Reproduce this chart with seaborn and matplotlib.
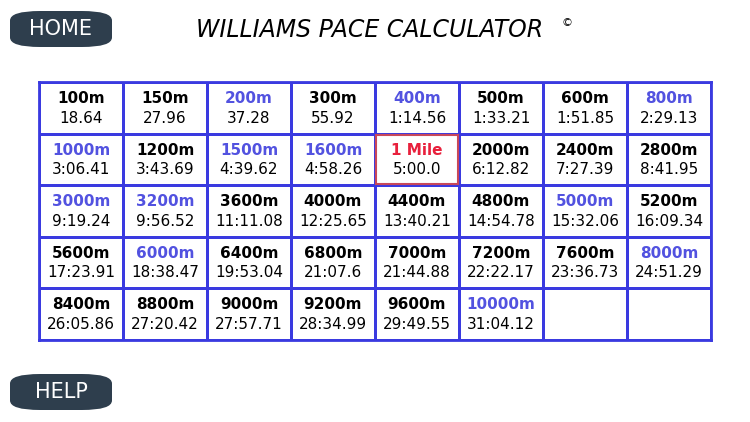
import numpy as np
import matplotlib
matplotlib.use("Agg")
import matplotlib.pyplot as plt
from matplotlib.patches import FancyBboxPatch, Rectangle
import seaborn as sns

distances = ["100m","150m","200m","300m","400m","500m","600m","800m",
             "1000m","1200m","1500m","1600m","1 Mile","2000m","2400m","2800m",
             "3000m","3200m","3600m","4000m","4400m","4800m","5000m","5200m",
             "5600m","6000m","6400m","6800m","7000m","7200m","7600m","8000m",
             "8400m","8800m","9000m","9200m","9600m","10000m","",""]
times = ["18.64","27.96","37.28","55.92","1:14.56","1:33.21","1:51.85","2:29.13",
         "3:06.41","3:43.69","4:39.62","4:58.26","5:00.0","6:12.82","7:27.39","8:41.95",
         "9:19.24","9:56.52","11:11.08","12:25.65","13:40.21","14:54.78","15:32.06","16:09.34",
         "17:23.91","18:38.47","19:53.04","21:07.6","21:44.88","22:22.17","23:36.73","24:51.29",
         "26:05.86","27:20.42","27:57.71","28:34.99","29:49.55","31:04.12","",""]
highlight_blue = {"200m","400m","800m","1000m","1500m","1600m","3000m","3200m",
                  "5000m","6000m","8000m","10000m"}
highlight_red = {"1 Mile"}
ncols, nrows = 8, 5

fig = plt.figure(figsize=(7.5, 4.22), dpi=100)
fig.patch.set_facecolor("white")
ax = fig.add_axes([39/750, 1-340/422, 672/750, 258/422])
sns.heatmap(np.zeros((nrows, ncols)), cmap=["white"], cbar=False, linewidths=2,
            linecolor="#3a3ae0", ax=ax, xticklabels=False, yticklabels=False)
for s in ax.spines.values():
    s.set_visible(True); s.set_color("#3a3ae0"); s.set_linewidth(2)

for i, (d, t) in enumerate(zip(distances, times)):
    r, c = divmod(i, ncols)
    if d in highlight_red:
        col = "#e8203c"
        ax.add_patch(Rectangle((c+0.01, r+0.02), 0.98, 0.96, fill=False,
                               edgecolor="#c8485a", lw=1.5, zorder=5))
    elif d in highlight_blue:
        col = "#5252e0"
    else:
        col = "black"
    ax.text(c+0.5, r+0.32, d, ha="center", va="center", fontsize=11,
            fontweight="bold", color=col)
    ax.text(c+0.5, r+0.7, t, ha="center", va="center", fontsize=11, color="black")

fig.text(370/750, 1-30/422, "WILLIAMS PACE CALCULATOR", ha="center", va="center",
         fontsize=17, style="italic", color="black")
fig.text(567/750, 1-23/422, "©", ha="center", va="center", fontsize=8, color="black")

for (x, y, label) in [(10, 11, "HOME"), (10, 374, "HELP")]:
    fig.patches.append(FancyBboxPatch((x/750, 1-(y+36)/422), 102/750, 36/422,
                       boxstyle="round,pad=0,rounding_size=0.04",
                       transform=fig.transFigure, facecolor="#2e3e4d",
                       edgecolor="none", mutation_aspect=422/750))
    fig.text((x+51)/750, 1-(y+18)/422, label, ha="center", va="center",
             fontsize=15, color="white")

fig.savefig("out.png", dpi=100)
